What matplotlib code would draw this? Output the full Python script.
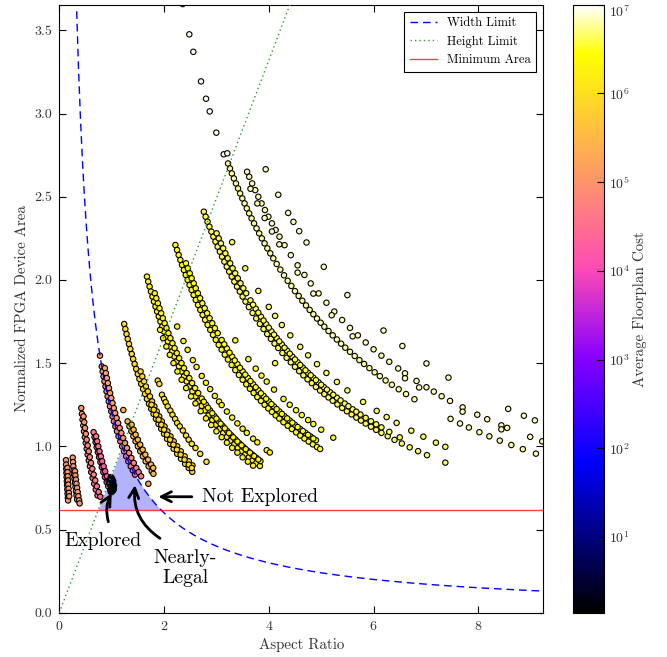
import numpy as np
import matplotlib
matplotlib.use("Agg")
import matplotlib.pyplot as plt
from matplotlib.colors import LogNorm
from matplotlib.ticker import FixedLocator, FormatStrFormatter, LogFormatterSciNotation

plt.rcParams['font.family'] = ['cmr10', 'DejaVu Serif']
plt.rcParams['mathtext.fontset'] = 'cm'
plt.rcParams['axes.formatter.use_mathtext'] = True

# ---------------------------------------------------------------------------
# Floorplan design points: (aspect ratio, normalized area, average cost)
# ---------------------------------------------------------------------------
l1_x = [0.128, 0.130, 0.133, 0.136, 0.140, 0.144, 0.148, 0.153, 0.158, 0.163, 0.168,
        0.155, 0.158, 0.162, 0.167, 0.172, 0.177, 0.183, 0.190,
        0.256, 0.262, 0.268, 0.275, 0.283, 0.291, 0.300, 0.309, 0.318, 0.329, 0.340,
        0.300, 0.308, 0.318, 0.328, 0.340, 0.351, 0.364, 0.378, 0.388]
l1_y = [0.917, 0.890, 0.865, 0.840, 0.815, 0.790, 0.765, 0.740, 0.715, 0.690, 0.675,
        0.870, 0.845, 0.820, 0.795, 0.770, 0.745, 0.720, 0.700,
        0.932, 0.905, 0.880, 0.855, 0.830, 0.805, 0.780, 0.755, 0.730, 0.705, 0.680,
        0.850, 0.825, 0.800, 0.775, 0.750, 0.725, 0.700, 0.675, 0.657]
l1_cost = 1.1e5

l2_x = [0.419, 0.431, 0.444, 0.458, 0.472, 0.488, 0.505, 0.523, 0.542, 0.563, 0.585, 0.609,
        0.636, 0.665, 0.696, 0.730,
        0.462, 0.476, 0.491, 0.507, 0.524, 0.542, 0.562, 0.583, 0.606, 0.630, 0.657, 0.686,
        0.717, 0.752, 0.782]
l2_y = [1.230, 1.195, 1.160, 1.125, 1.090, 1.055, 1.020, 0.985, 0.950, 0.915, 0.880, 0.845,
        0.810, 0.775, 0.740, 0.705,
        1.180, 1.145, 1.110, 1.075, 1.040, 1.005, 0.970, 0.935, 0.900, 0.865, 0.830, 0.795,
        0.760, 0.725, 0.697]
l2_cost = [1.1e5, 1.0e5, 9.5e4, 9e4, 8.5e4, 8e4, 7.5e4, 7e4, 6.5e4, 6e4, 5.5e4, 5e4,
           4.5e4, 4e4, 3.5e4, 3e4,
           1.0e5, 9.5e4, 9e4, 8.5e4, 8e4, 7.5e4, 7e4, 6.5e4, 6e4, 5.5e4, 5e4, 4.5e4,
           4e4, 3.5e4, 3e4]

l3_x = [0.654, 0.673, 0.693, 0.714, 0.736, 0.759, 0.785, 0.811, 0.840, 0.871, 0.904, 0.934,
        0.703, 0.723, 0.745, 0.768, 0.793, 0.819, 0.847, 0.876, 0.909, 0.943, 0.974]
l3_y = [1.085, 1.055, 1.025, 0.995, 0.965, 0.935, 0.905, 0.875, 0.845, 0.815, 0.785, 0.760,
        1.060, 1.030, 1.000, 0.970, 0.940, 0.910, 0.880, 0.850, 0.820, 0.790, 0.765]
l3_cost = [5e4, 4.5e4, 4e4, 3.5e4, 3e4, 2.6e4, 2.2e4, 1.9e4, 1.6e4, 1.4e4, 1.2e4, 1e4,
           4.5e4, 4e4, 3.5e4, 3e4, 2.6e4, 2.2e4, 1.9e4, 1.6e4, 1.4e4, 1.2e4, 9e3]

blob_x = [0.985, 0.990, 0.995, 1.000, 1.005, 1.010, 1.015, 1.020,
          0.975, 0.980, 0.990, 0.995, 1.000, 1.025, 1.020, 1.010,
          0.970, 0.985, 1.030, 1.005, 0.995, 1.015,
          0.960, 0.965, 1.035, 1.040, 1.030, 0.975, 0.980, 0.990, 1.000, 1.015, 1.030, 1.045]
blob_y = [0.805, 0.795, 0.785, 0.775, 0.765, 0.755, 0.745, 0.735,
          0.790, 0.775, 0.760, 0.750, 0.740, 0.755, 0.770, 0.785,
          0.800, 0.815, 0.770, 0.730, 0.725, 0.735,
          0.780, 0.795, 0.760, 0.745, 0.735, 0.740, 0.730, 0.725, 0.810, 0.800, 0.790, 0.765]
blob_cost = [4, 3, 2, 2, 1.8, 1.6, 1.6, 1.8, 3, 2, 1.7, 1.6, 1.6, 2, 2, 2.5,
             5, 8, 2, 1.6, 1.6, 1.7,
             3, 4, 2, 1.8, 1.7, 1.6, 1.6, 1.6, 6, 4, 3, 2]

l4_x = [0.777, 0.811, 0.828, 0.845, 0.863, 0.882, 0.902, 0.923, 0.945, 0.968, 0.992, 1.017,
        1.043, 1.071, 1.101, 1.132, 1.165, 1.200, 1.237, 1.277, 1.319, 1.364, 1.404, 1.446,
        0.871, 0.889, 0.908, 0.928, 0.948, 0.970, 0.992, 1.016, 1.041, 1.067, 1.094, 1.123,
        1.153, 1.185, 1.219, 1.255, 1.293, 1.333, 1.376, 1.422, 1.471, 1.515, 1.561, 1.700]
l4_y = [1.545, 1.480, 1.450, 1.420, 1.390, 1.360, 1.330, 1.300, 1.270, 1.240, 1.210, 1.180,
        1.150, 1.120, 1.090, 1.060, 1.030, 1.000, 0.970, 0.940, 0.910, 0.880, 0.855, 0.830,
        1.470, 1.440, 1.410, 1.380, 1.350, 1.320, 1.290, 1.260, 1.230, 1.200, 1.170, 1.140,
        1.110, 1.080, 1.050, 1.020, 0.990, 0.960, 0.930, 0.900, 0.870, 0.845, 0.820, 0.775]
l4_cost = [1.5e5, 1.4e5, 1.3e5, 1.2e5, 1.1e5, 1e5, 9e4, 8.5e4, 8e4, 7.5e4, 7e4, 6.5e4,
           6e4, 5.5e4, 5e4, 4.5e4, 4e4, 3.5e4, 3.2e4, 3e4, 2.8e4, 2.5e4, 2.2e4, 2e4,
           2e5, 1.9e5, 1.8e5, 1.7e5, 1.6e5, 1.5e5, 1.4e5, 1.3e5, 1.2e5, 1.1e5, 1e5, 9.5e4,
           9e4, 8.5e4, 8e4, 7.5e4, 7e4, 6.5e4, 6e4, 5.5e4, 5e4, 4.5e4, 4e4, 1.5e5]

l5_x = [1.222, 1.304, 1.339, 1.376, 1.415, 1.456, 1.500, 1.546, 1.596, 1.648, 1.705, 1.765,
        1.796, 1.381, 1.418, 1.458, 1.500, 1.545, 1.592, 1.642, 1.696, 1.753, 1.793]
l5_y = [1.218, 1.150, 1.120, 1.090, 1.060, 1.030, 1.000, 0.970, 0.940, 0.910, 0.880, 0.850,
        0.835, 1.130, 1.100, 1.070, 1.040, 1.010, 0.980, 0.950, 0.920, 0.890, 0.870]
l5_cost = 3e5

m1_x = [1.239, 1.261, 1.284, 1.307, 1.331, 1.356, 1.383, 1.410, 1.438, 1.468, 1.498, 1.530,
        1.564, 1.599, 1.635, 1.673, 1.713, 1.755, 1.799, 1.845, 1.894, 1.946, 2.000, 2.057,
        2.118, 2.183, 2.251, 2.324, 2.402, 2.471, 2.538,
        1.552, 1.585, 1.619, 1.654, 1.692, 1.731, 1.772, 1.815, 1.860, 1.907, 1.957, 2.009,
        2.064, 2.123, 2.184, 2.250, 2.320, 2.394, 2.473, 2.542,
        1.760, 1.849, 1.947, 2.056, 2.178, 2.316, 2.472,
        1.803, 1.897, 2.000, 2.115, 2.245, 2.391, 2.529]
m1_y = [1.735, 1.705, 1.675, 1.645, 1.615, 1.585, 1.555, 1.525, 1.495, 1.465, 1.435, 1.405,
        1.375, 1.345, 1.315, 1.285, 1.255, 1.225, 1.195, 1.165, 1.135, 1.105, 1.075, 1.045,
        1.015, 0.985, 0.955, 0.925, 0.895, 0.870, 0.847,
        1.450, 1.420, 1.390, 1.360, 1.330, 1.300, 1.270, 1.240, 1.210, 1.180, 1.150, 1.120,
        1.090, 1.060, 1.030, 1.000, 0.970, 0.940, 0.910, 0.885,
        1.250, 1.190, 1.130, 1.070, 1.010, 0.950, 0.890,
        1.220, 1.160, 1.100, 1.040, 0.980, 0.920, 0.870]
m1_cost = 9e5

m1o_x = [1.88, 1.91, 1.96, 2.00, 2.03, 2.07, 2.12, 2.16, 2.21, 2.25, 2.30, 2.36, 2.42, 2.47,
         2.53, 2.60, 2.69, 2.81]
m1o_y = [1.395, 1.375, 1.310, 1.285, 1.265, 1.240, 1.215, 1.190, 1.165, 1.140, 1.120, 1.095,
         1.065, 1.040, 1.015, 0.990, 0.955, 0.907]
m1o_cost = 1.2e6

m2_x = [1.673, 1.698, 1.724, 1.751, 1.779, 1.807, 1.837, 1.867, 1.899, 1.931, 1.965, 2.000,
        2.036, 2.074, 2.113, 2.153, 2.195, 2.238, 2.284, 2.331, 2.380, 2.432, 2.485, 2.541,
        2.600, 2.66, 2.72, 2.78, 2.85, 2.92, 2.99, 3.06, 3.13, 3.20, 3.27, 3.34, 3.41, 3.48,
        3.55, 3.62, 3.69, 3.76, 3.83,
        1.823, 1.882, 1.944, 2.011, 2.083, 2.160, 2.244, 2.333, 2.431, 2.536, 2.652,
        2.72, 2.80, 2.88, 2.96, 3.04, 3.12, 3.20, 3.28, 3.36, 3.44, 3.52, 3.60, 3.68, 3.76, 3.84,
        1.852, 1.913, 1.977, 2.047, 2.121, 2.201, 2.288, 2.381, 2.482, 2.593,
        2.76, 2.84, 2.92, 3.00, 3.08, 3.16, 3.24, 3.32, 3.40, 3.48, 3.56, 3.64, 3.72, 3.80,
        1.924, 2.044, 2.180, 2.336, 2.515, 2.70, 2.90, 3.10, 3.30, 3.50, 3.70,
        1.982, 2.110, 2.255, 2.422, 2.60, 2.80, 3.00, 3.20, 3.40, 3.60]
m2_y = [2.02, 1.99, 1.96, 1.93, 1.90, 1.87, 1.84, 1.81, 1.78, 1.75, 1.72, 1.69,
        1.66, 1.63, 1.60, 1.57, 1.54, 1.51, 1.48, 1.45, 1.42, 1.39, 1.36, 1.33,
        1.30, 1.271, 1.243, 1.216, 1.186, 1.158, 1.130, 1.105, 1.080, 1.056, 1.034, 1.012,
        0.991, 0.971, 0.952, 0.934, 0.916, 0.899, 0.882,
        1.92, 1.86, 1.80, 1.74, 1.68, 1.62, 1.56, 1.50, 1.44, 1.38, 1.32,
        1.287, 1.250, 1.215, 1.182, 1.151, 1.122, 1.094, 1.067, 1.042, 1.017, 0.994, 0.972,
        0.951, 0.931, 0.911,
        1.89, 1.83, 1.77, 1.71, 1.65, 1.59, 1.53, 1.47, 1.41, 1.35,
        1.268, 1.232, 1.199, 1.167, 1.136, 1.108, 1.080, 1.054, 1.029, 1.006, 0.983, 0.962,
        0.941, 0.921,
        1.70, 1.60, 1.50, 1.40, 1.30, 1.211, 1.128, 1.055, 0.991, 0.934, 0.884,
        1.65, 1.55, 1.45, 1.35, 1.258, 1.168, 1.090, 1.022, 0.962, 0.908]
m2_cost = 2e6

m2o_x = [2.25, 2.37, 2.45, 2.55, 2.62, 2.72, 2.80, 2.88, 2.97, 3.05, 3.10, 3.20, 3.30, 3.40,
         3.50, 3.58, 3.70, 3.78, 3.96, 4.02]
m2o_y = [1.720, 1.633, 1.580, 1.518, 1.477, 1.423, 1.382, 1.344, 1.303, 1.269, 1.248, 1.209,
         1.173, 1.138, 1.106, 1.081, 1.046, 1.024, 0.977, 0.963]
m2o_cost = 2e6

m3_x = [2.217, 2.248, 2.279, 2.311, 2.344, 2.379, 2.414, 2.450, 2.487, 2.526, 2.565, 2.606,
        2.649, 2.692, 2.737, 2.784, 2.832, 2.882, 2.934, 2.988, 3.043,
        3.10, 3.16, 3.22, 3.29, 3.36, 3.43, 3.50, 3.57, 3.64, 3.71, 3.78, 3.85, 3.92, 3.99,
        4.06, 4.13, 4.20, 4.28, 4.36, 4.44, 4.52, 4.60, 4.68, 4.76, 4.84, 4.92, 4.98,
        2.419, 2.490, 2.566, 2.646, 2.731, 2.822, 2.920, 3.024,
        3.10, 3.20, 3.30, 3.40, 3.50, 3.60, 3.70, 3.80, 3.90, 4.00, 4.10, 4.20, 4.30, 4.40,
        4.50, 4.60, 4.70, 4.80, 4.90,
        2.454, 2.527, 2.605, 2.688, 2.776, 2.870, 2.971,
        3.15, 3.25, 3.35, 3.45, 3.55, 3.65, 3.75, 3.85, 3.95, 4.05, 4.15, 4.25, 4.35, 4.45,
        4.55, 4.65, 4.75, 4.85]
m3_y = [2.21, 2.18, 2.15, 2.12, 2.09, 2.06, 2.03, 2.00, 1.97, 1.94, 1.91, 1.88,
        1.85, 1.82, 1.79, 1.76, 1.73, 1.70, 1.67, 1.64, 1.61,
        1.581, 1.551, 1.522, 1.489, 1.458, 1.429, 1.400, 1.373, 1.346, 1.321, 1.296, 1.273,
        1.250, 1.228, 1.207, 1.186, 1.167, 1.145, 1.124, 1.104, 1.084, 1.065, 1.047, 1.029,
        1.012, 0.996, 0.984,
        2.10, 2.04, 1.98, 1.92, 1.86, 1.80, 1.74, 1.68,
        1.639, 1.588, 1.539, 1.494, 1.451, 1.411, 1.373, 1.337, 1.303, 1.270, 1.239, 1.210,
        1.181, 1.155, 1.129, 1.104, 1.081, 1.058, 1.037,
        2.07, 2.01, 1.95, 1.89, 1.83, 1.77, 1.71,
        1.613, 1.563, 1.516, 1.472, 1.431, 1.392, 1.355, 1.319, 1.286, 1.254, 1.224, 1.195,
        1.168, 1.142, 1.116, 1.092, 1.069, 1.047]
m3_cost = 3e6

m3o_x = [3.36, 3.61, 3.75, 3.86, 3.96, 4.10, 4.28, 4.40, 4.52, 4.63, 4.75, 4.85, 5.00, 5.23, 4.12]
m3o_y = [1.637, 1.524, 1.467, 1.425, 1.389, 1.341, 1.285, 1.250, 1.217, 1.188, 1.158, 1.134,
         1.100, 1.052, 1.500]
m3o_cost = 3e6

b_x = [2.759, 2.794, 2.830, 2.866, 2.904, 2.942, 2.982, 3.023, 3.065, 3.107, 3.152, 3.197,
       3.244, 3.292, 3.342, 3.393, 3.446, 3.500, 3.556,
       3.62, 3.69, 3.76, 3.83, 3.90, 3.97, 4.04, 4.11, 4.18, 4.26, 4.34, 4.42, 4.50, 4.58,
       4.66, 4.74, 4.82, 4.90, 4.98, 5.06, 5.14, 5.22, 5.31, 5.40, 5.49, 5.58, 5.67, 5.76,
       5.85, 5.95, 6.05, 6.15, 6.27, 6.40, 6.54, 6.69, 6.85, 7.02, 7.37,
       3.004, 3.086, 3.171, 3.262, 3.358, 3.460, 3.568,
       3.65, 3.75, 3.85, 3.95, 4.05, 4.15, 4.25, 4.35, 4.45, 4.55, 4.65, 4.75, 4.85, 4.95,
       5.05, 5.17, 5.30, 5.45, 5.60, 5.75, 5.95, 6.15,
       3.044, 3.128, 3.216, 3.309, 3.408, 3.513,
       3.70, 3.80, 3.90, 4.00, 4.10, 4.20, 4.30, 4.40, 4.50, 4.60, 4.70, 4.80, 4.90, 5.00,
       5.11, 5.23, 5.37, 5.52, 5.67, 5.85, 6.05, 6.30, 6.50]
b_y = [2.41, 2.38, 2.35, 2.32, 2.29, 2.26, 2.23, 2.20, 2.17, 2.14, 2.11, 2.08,
       2.05, 2.02, 1.99, 1.96, 1.93, 1.90, 1.87,
       1.837, 1.802, 1.769, 1.736, 1.705, 1.675, 1.646, 1.618, 1.591, 1.561, 1.532, 1.505,
       1.478, 1.452, 1.427, 1.403, 1.380, 1.357, 1.335, 1.314, 1.294, 1.274, 1.252, 1.231,
       1.211, 1.192, 1.173, 1.155, 1.137, 1.118, 1.099, 1.081, 1.061, 1.039, 1.017, 0.994,
       0.971, 0.947, 0.902,
       2.28, 2.22, 2.16, 2.10, 2.04, 1.98, 1.92,
       1.877, 1.827, 1.779, 1.734, 1.691, 1.651, 1.612, 1.575, 1.539, 1.505, 1.473, 1.442,
       1.412, 1.384, 1.356, 1.325, 1.292, 1.257, 1.223, 1.191, 1.151, 1.114,
       2.25, 2.19, 2.13, 2.07, 2.01, 1.95,
       1.851, 1.803, 1.756, 1.713, 1.671, 1.631, 1.593, 1.557, 1.522, 1.489, 1.457, 1.427,
       1.398, 1.370, 1.341, 1.310, 1.276, 1.241, 1.208, 1.171, 1.132, 1.087, 1.054]
b_cost = 4e6

bo_x = [3.30, 3.55, 3.80, 4.00, 4.12, 4.25, 4.41, 4.60, 4.75, 4.92, 5.10, 5.30, 5.50, 5.80,
        6.06, 6.25, 6.44, 6.72, 6.95, 7.19, 7.37]
bo_y = [2.227, 2.070, 1.934, 1.838, 1.784, 1.729, 1.667, 1.598, 1.547, 1.494, 1.441, 1.387,
        1.336, 1.267, 1.213, 1.176, 1.141, 1.094, 1.058, 1.022, 0.997]
bo_cost = 4e6

a_top_x = [2.356, 2.482, 2.559, 2.706, 2.801, 2.872, 2.998, 3.139, 3.208]
a_top_y = [3.658, 3.476, 3.371, 3.193, 3.089, 3.013, 2.885, 2.755, 2.761]
a_top_cost = 9e6

a_x = [3.222, 3.258, 3.295, 3.333, 3.372, 3.412, 3.452, 3.494, 3.537, 3.580, 3.625, 3.671,
       3.718, 3.766, 3.816, 3.867, 3.919, 3.973, 4.028, 4.085,
       4.15, 4.22, 4.29, 4.36, 4.43, 4.50, 4.57, 4.64, 4.71, 4.78, 4.85, 4.92, 4.99, 5.06,
       5.14, 5.22, 5.30, 5.38, 5.46, 5.55, 5.64, 5.73, 5.82, 5.92, 6.02, 6.12, 6.23, 6.35,
       6.48, 6.62, 6.78, 7.47, 7.65, 7.82, 8.02, 8.21, 8.41, 8.63, 8.85, 9.10]
a_y = [2.70, 2.67, 2.64, 2.61, 2.58, 2.55, 2.52, 2.49, 2.46, 2.43, 2.40, 2.37,
       2.34, 2.31, 2.28, 2.25, 2.22, 2.19, 2.16, 2.13,
       2.096, 2.062, 2.028, 1.995, 1.964, 1.933, 1.904, 1.875, 1.847, 1.820, 1.794, 1.768,
       1.743, 1.719, 1.693, 1.667, 1.642, 1.617, 1.593, 1.568, 1.543, 1.518, 1.495, 1.470,
       1.445, 1.422, 1.396, 1.370, 1.343, 1.314, 1.283, 1.165, 1.137, 1.113, 1.085, 1.060,
       1.034, 1.008, 0.983, 0.956]
a_cost = 6e6

ao_x = [3.585, 3.626, 3.682, 3.740, 3.800, 3.862, 3.926, 3.992, 4.060, 4.130, 4.204,
        4.30, 4.42, 4.55, 4.68, 4.80, 4.95, 5.10, 5.25, 5.40, 5.55, 5.70, 5.85, 6.00, 6.15,
        6.30, 6.47, 6.60, 6.82, 7.01, 7.15, 7.30, 7.46, 7.70, 7.98, 8.17, 8.44, 8.55, 8.99, 9.22,
        3.65, 3.78, 3.92, 4.06, 4.20, 4.55, 4.85, 5.20, 5.60, 6.60, 6.87, 7.70, 8.44]
ao_y = [2.65, 2.62, 2.58, 2.54, 2.50, 2.46, 2.42, 2.38, 2.34, 2.30, 2.26,
        2.209, 2.149, 2.088, 2.030, 1.979, 1.919, 1.863, 1.810, 1.759, 1.712, 1.667, 1.624,
        1.583, 1.545, 1.508, 1.468, 1.439, 1.393, 1.355, 1.329, 1.301, 1.273, 1.234, 1.190,
        1.163, 1.126, 1.111, 1.057, 1.030,
        2.548, 2.460, 2.372, 2.291, 2.214, 2.044, 1.918, 1.788, 1.661, 1.409, 1.354, 1.208, 1.102]
ao_cost = 6.5e6

aoo_x = [3.94, 4.18, 4.37, 4.47, 4.58, 4.72, 5.05, 5.50, 6.19, 6.55, 7.01, 7.43, 8.57, 8.87, 9.08]
aoo_y = [2.665, 2.512, 2.403, 2.349, 2.293, 2.225, 2.079, 1.909, 1.696, 1.603, 1.498, 1.413,
         1.225, 1.184, 1.156]
aoo_cost = 7e6

# Device limits
width_limit_const = 1.2     # area * aspect ratio bound
height_limit_slope = 0.83   # area / aspect ratio bound
min_area = 0.62

cost_min, cost_max = 1.4, 1e7
cbar_ticks = [1e1, 1e2, 1e3, 1e4, 1e5, 1e6, 1e7]

groups = [
    (l1_x, l1_y, l1_cost), (l2_x, l2_y, l2_cost), (l3_x, l3_y, l3_cost),
    (l4_x, l4_y, l4_cost), (l5_x, l5_y, l5_cost), (m1_x, m1_y, m1_cost),
    (m1o_x, m1o_y, m1o_cost), (m2_x, m2_y, m2_cost), (m2o_x, m2o_y, m2o_cost),
    (m3_x, m3_y, m3_cost), (m3o_x, m3o_y, m3o_cost), (b_x, b_y, b_cost),
    (bo_x, bo_y, bo_cost), (a_top_x, a_top_y, a_top_cost), (a_x, a_y, a_cost),
    (ao_x, ao_y, ao_cost), (aoo_x, aoo_y, aoo_cost), (blob_x, blob_y, blob_cost),
]
xs, ys, cs = [], [], []
for gx, gy, gc in groups:
    xs.append(np.asarray(gx, float))
    ys.append(np.asarray(gy, float))
    cs.append(np.broadcast_to(np.asarray(gc, float), (len(gx),)))
xs = np.concatenate(xs)
ys = np.concatenate(ys)
cs = np.concatenate(cs)

# ---------------------------------------------------------------------------
fig = plt.figure(figsize=(6.67, 6.57), dpi=100)
ax = fig.add_axes([0.0889, 0.0674, 0.7256, 0.9254])
cax = fig.add_axes([0.8595, 0.0674, 0.0465, 0.9254])

xmax, ymax = 9.24, 3.654

# legal region (between limits, above minimum area)
xf = np.linspace(min_area / height_limit_slope, width_limit_const / min_area, 300)
upper = np.minimum(height_limit_slope * xf, width_limit_const / xf)
ax.fill_between(xf, min_area, upper, color='b', alpha=0.3, linewidth=0, zorder=1)

sc = ax.scatter(xs, ys, c=cs, cmap='gnuplot2', norm=LogNorm(cost_min, cost_max),
                s=15, edgecolors='k', linewidths=0.8, zorder=2)

xw = np.linspace(0.332, xmax, 500)
ax.plot(xw, width_limit_const / xw, color='b', ls=(0, (5.5, 3.5)), lw=1.0,
        label='Width Limit', zorder=3)
xh = np.linspace(0, xmax, 10)
ax.plot(xh, height_limit_slope * xh, color='#2e9e2e', ls=(0, (1, 2.2)), lw=1.0,
        label='Height Limit', zorder=3)
ax.axhline(min_area, color='r', lw=1.0, alpha=0.75, label='Minimum Area', zorder=3)

ax.set_xlim(0, xmax)
ax.set_ylim(0, ymax)
ax.set_xticks([0, 2, 4, 6, 8])
ax.set_yticks(np.arange(0, 3.6, 0.5))
ax.yaxis.set_major_formatter(FormatStrFormatter('%.1f'))
ax.tick_params(direction='in', top=True, right=True, length=5, width=0.8,
               labelsize=10, pad=5, labelcolor='#333333')
ax.set_xlabel('Aspect Ratio', fontsize=10.8, color='#333333')
ax.set_ylabel('Normalized FPGA Device Area', fontsize=10.8, color='#333333')

leg = ax.legend(loc='upper right', fontsize=9, fancybox=False, framealpha=1,
                edgecolor='k', handlelength=2.2, borderaxespad=0.55, borderpad=0.45)
leg.get_frame().set_linewidth(0.8)

# annotations
arrow = dict(arrowstyle='->', lw=2, color='k', mutation_scale=18, shrinkA=0, shrinkB=0)
ax.annotate('', xy=(1.89, 0.697), xytext=(2.53, 0.697), arrowprops=arrow)
ax.text(2.72, 0.667, 'Not Explored', fontsize=14.2, va='baseline', ha='left')

ax.annotate('', xy=(1.0, 0.718), xytext=(0.936, 0.547),
            arrowprops=dict(arrow, connectionstyle='arc3,rad=-0.2'))
ax.text(0.825, 0.401, 'Explored', fontsize=14.2, va='baseline', ha='center')

ax.annotate('', xy=(1.446, 0.767), xytext=(1.923, 0.447),
            arrowprops=dict(arrow, connectionstyle='arc3,rad=-0.3'))
ax.text(2.40, 0.300, 'Nearly-', fontsize=14.2, va='baseline', ha='center')
ax.text(2.40, 0.177, 'Legal', fontsize=14.2, va='baseline', ha='center')

cbar = fig.colorbar(sc, cax=cax)
cbar.ax.yaxis.set_major_locator(FixedLocator(cbar_ticks))
cbar.ax.yaxis.set_major_formatter(LogFormatterSciNotation())
cbar.ax.minorticks_off()
cbar.ax.tick_params(direction='in', length=5, width=0.8, labelsize=10,
                    labelcolor='#333333')
cbar.set_label('Average Floorplan Cost', fontsize=10.8, color='#333333', labelpad=2)
cbar.outline.set_linewidth(0.8)

fig.canvas.draw()
for lab in cbar.ax.get_yticklabels():
    if lab.get_text() and '7' in lab.get_text():
        lab.set_verticalalignment('top')
        lab.set_y(1.0)

fig.savefig('out.png', dpi=100)
